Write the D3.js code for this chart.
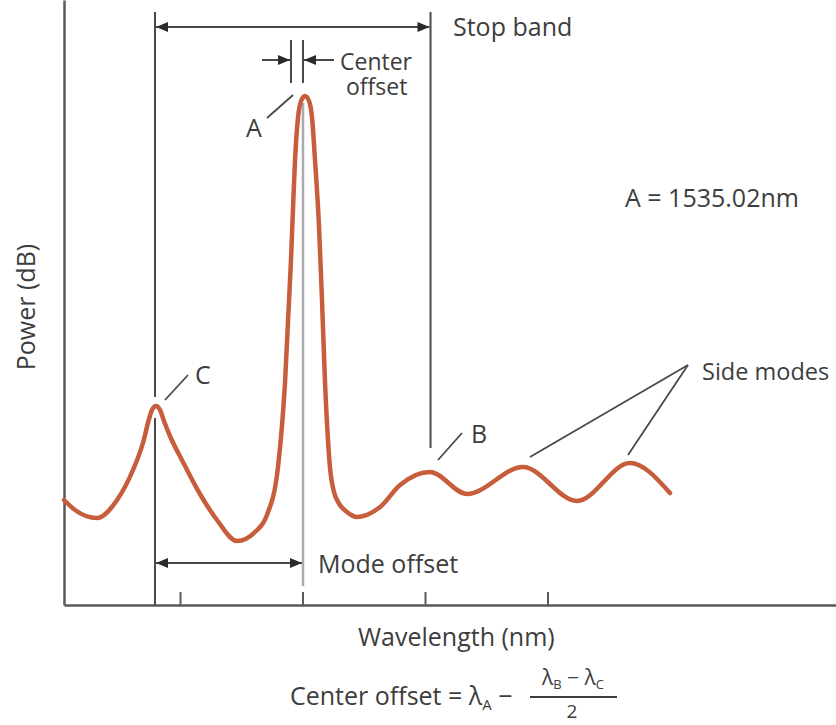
<!DOCTYPE html>
<head>
    <meta charset="utf-8" />
    <title>Stop band and side modes</title>
</head>

<style>
    body {
        margin: 0;
        background: #ffffff;
    }

    text {
        font-family: "Open Sans", sans-serif;
        fill: #3d3d3d;
    }

    .axis path,
    .axis line {
        fill: none;
        stroke: #5a5a5a;
        stroke-width: 2.5px;
    }

    .guide {
        stroke: #4a4a4a;
        stroke-width: 2px;
    }
</style>

<body>
    <svg id="chart" width="836" height="725"></svg>

    <script src="https://d3js.org/d3.v7.min.js"></script>

    <script>
        // spectrum (wavelength in nm, power in relative dB)
        var wavelength = [1533.053, 1533.143, 1533.322, 1533.486, 1533.616, 1533.700, 1533.747, 1533.771,
            1533.804, 1533.837, 1533.869, 1533.918, 1534.024, 1534.163, 1534.302, 1534.465,
            1534.612, 1534.710, 1534.800, 1534.833, 1534.857, 1534.882, 1534.906, 1534.922,
            1534.939, 1534.963, 1534.988, 1535.020, 1535.053, 1535.078, 1535.102, 1535.135,
            1535.159, 1535.184, 1535.208, 1535.224, 1535.257, 1535.290, 1535.363, 1535.445,
            1535.633, 1535.796, 1536.041, 1536.343, 1536.800, 1537.241, 1537.673, 1538.000];
        var power = [10.5, 9.5, 8.7, 10.5, 13.5, 16.3, 18.6, 19.5,
            19.9, 19.5, 18.4, 16.9, 14.3, 11.1, 8.5, 6.4,
            7.3, 9.0, 13.8, 18.0, 22.2, 28.5, 34.5, 39.5,
            44.5, 48.7, 50.4, 50.9, 50.4, 48.7, 44.5, 37.8,
            30.5, 22.2, 16.5, 13.8, 11.3, 10.3, 9.3, 8.8,
            9.8, 12.0, 13.3, 11.1, 13.8, 10.4, 14.2, 11.2];

        var tickValues = [1534, 1535, 1536, 1537];

        // marked wavelengths
        var lambdaC = 1533.796;
        var lambdaA = 1535.004;
        var lambdaB = 1536.045;
        var stopCenter = 1534.906;

        var svg = d3.select("#chart");

        var x = d3.scaleLinear().domain([1533.053, 1539.355]).range([64, 836]);
        var y = d3.scaleLinear().domain([0, 60.5]).range([605, 0]);

        // arrow head
        var defs = svg.append("defs");
        defs.append("marker")
            .attr("id", "head")
            .attr("viewBox", "0 0 12 10")
            .attr("refX", 12)
            .attr("refY", 5)
            .attr("markerUnits", "userSpaceOnUse")
            .attr("markerWidth", 13)
            .attr("markerHeight", 10)
            .attr("orient", "auto-start-reverse")
            .append("path")
            .attr("d", "M0,0 L12,5 L0,10 Z")
            .attr("fill", "#2a2a2a");

        // axes
        svg.append("g")
            .attr("class", "x axis")
            .attr("transform", "translate(0," + y(0) + ")")
            .call(d3.axisBottom(x).tickValues(tickValues).tickSize(-13).tickSizeOuter(0).tickFormat(""))
            .selectAll("line").style("stroke-width", "2px");

        svg.append("g")
            .attr("class", "y axis")
            .attr("transform", "translate(" + x.range()[0] + ",0)")
            .call(d3.axisLeft(y).tickValues([]).tickSizeOuter(0));

        // guide lines
        var g = svg.append("g");

        g.append("line").attr("class", "guide")
            .attr("x1", x(lambdaC)).attr("x2", x(lambdaC)).attr("y1", 12).attr("y2", 397);
        g.append("line").attr("class", "guide")
            .attr("x1", x(lambdaC)).attr("x2", x(lambdaC)).attr("y1", 418).attr("y2", y(0));
        g.append("line").attr("class", "guide")
            .attr("x1", x(lambdaB)).attr("x2", x(lambdaB)).attr("y1", 12).attr("y2", 448);

        g.append("line").attr("class", "guide")
            .attr("x1", x(stopCenter)).attr("x2", x(stopCenter)).attr("y1", 40).attr("y2", 83);
        g.append("line").attr("class", "guide")
            .attr("x1", x(lambdaA)).attr("x2", x(lambdaA)).attr("y1", 40).attr("y2", 83);

        g.append("line")
            .attr("x1", x(lambdaA)).attr("x2", x(lambdaA)).attr("y1", 103).attr("y2", 586)
            .attr("stroke", "#ababab").attr("stroke-width", 2.5);

        // arrows
        g.append("line").attr("class", "guide")
            .attr("x1", x(lambdaC) + 1).attr("x2", x(lambdaB) - 1).attr("y1", 27).attr("y2", 27)
            .attr("marker-start", "url(#head)").attr("marker-end", "url(#head)");
        g.append("line").attr("class", "guide")
            .attr("x1", 262).attr("x2", x(stopCenter) - 1).attr("y1", 60).attr("y2", 60)
            .attr("marker-end", "url(#head)");
        g.append("line").attr("class", "guide")
            .attr("x1", 334).attr("x2", x(lambdaA) + 1).attr("y1", 60).attr("y2", 60)
            .attr("marker-end", "url(#head)");
        g.append("line").attr("class", "guide")
            .attr("x1", x(lambdaC) + 1).attr("x2", x(lambdaA) - 1).attr("y1", 563).attr("y2", 563)
            .attr("marker-start", "url(#head)").attr("marker-end", "url(#head)");

        // leaders
        var leaders = [
            [267, 118, 293, 95],
            [165, 400, 188, 375],
            [438, 460, 462, 433],
            [688, 365, 530, 457],
            [688, 365, 628, 455]
        ];
        g.selectAll(".leader")
            .data(leaders)
            .enter().append("line")
            .attr("class", "guide leader")
            .style("stroke-width", "1.8px")
            .attr("x1", function(d) { return d[0]; })
            .attr("y1", function(d) { return d[1]; })
            .attr("x2", function(d) { return d[2]; })
            .attr("y2", function(d) { return d[3]; });

        // spectrum
        var line = d3.line()
            .x(function(d, i) { return x(wavelength[i]); })
            .y(function(d) { return y(d); })
            .curve(d3.curveMonotoneX);

        svg.append("path")
            .datum(power)
            .attr("d", line)
            .attr("fill", "none")
            .attr("stroke", "#c65d3b")
            .attr("stroke-width", 4.5)
            .attr("stroke-linecap", "round");

        // labels
        var labels = [
            { t: "Stop band", x: 453, y: 36, s: 25 },
            { t: "A", x: 246, y: 137, s: 25 },
            { t: "C", x: 195, y: 384, s: 25 },
            { t: "B", x: 471, y: 443, s: 25 },
            { t: "Side modes", x: 702, y: 380, s: 23.5 },
            { t: "A = 1535.02nm", x: 625, y: 207, s: 25 },
            { t: "Mode offset", x: 318, y: 573, s: 25 },
            { t: "Wavelength (nm)", x: 358, y: 646, s: 25 }
        ];
        svg.selectAll(".label")
            .data(labels)
            .enter().append("text")
            .attr("class", "label")
            .attr("x", function(d) { return d.x; })
            .attr("y", function(d) { return d.y; })
            .attr("font-size", function(d) { return d.s + "px"; })
            .text(function(d) { return d.t; });

        // two-line label next to the short arrows
        var co = svg.append("text")
            .attr("font-size", "23px");
        co.append("tspan").attr("x", 340).attr("y", 70).text("Center");
        co.append("tspan").attr("x", 346).attr("y", 95).text("offset");

        svg.append("text")
            .attr("transform", "translate(35,307) rotate(-90)")
            .attr("text-anchor", "middle")
            .attr("font-size", "25px")
            .text("Power (dB)");

        // formula
        var f = svg.append("text")
            .attr("x", 290)
            .attr("y", 705)
            .attr("font-size", "25px");
        f.append("tspan").text("Center offset = λ");
        f.append("tspan").attr("font-size", "15px").attr("dy", 5).text("A");
        f.append("tspan").attr("dy", -5).text(" − ");

        var num = svg.append("text")
            .attr("x", 573)
            .attr("y", 685)
            .attr("text-anchor", "middle")
            .attr("font-size", "21px");
        num.append("tspan").text("λ");
        num.append("tspan").attr("font-size", "13px").attr("dy", 4).text("B");
        num.append("tspan").attr("dy", -4).text(" − λ");
        num.append("tspan").attr("font-size", "13px").attr("dy", 4).text("C");

        svg.append("line")
            .attr("x1", 530).attr("x2", 617).attr("y1", 697).attr("y2", 697)
            .attr("stroke", "#3d3d3d").attr("stroke-width", 1.8);

        svg.append("text")
            .attr("x", 572)
            .attr("y", 718)
            .attr("text-anchor", "middle")
            .attr("font-size", "19px")
            .text("2");
    </script>
</body>
